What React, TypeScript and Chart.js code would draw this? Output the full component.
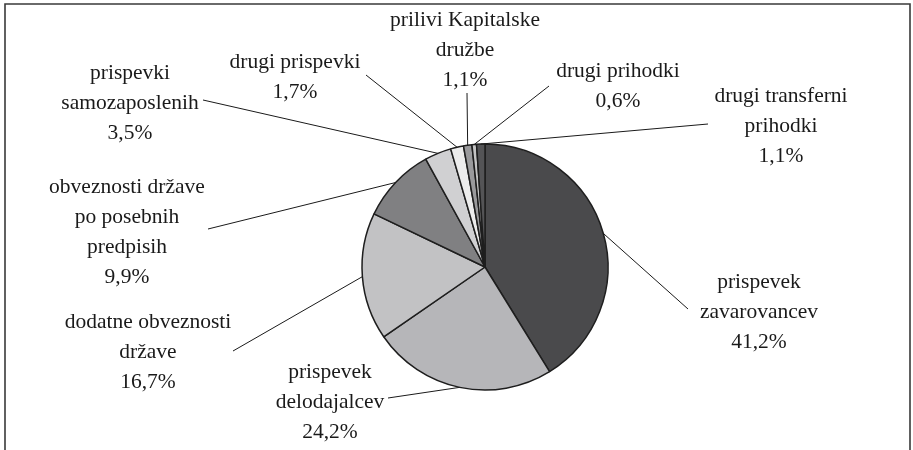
import React, { useEffect, useRef } from "react";
import { Chart, registerables } from "chart.js";

Chart.register(...registerables);

// ---- data ----
const categories = [
  "prispevek zavarovancev",
  "prispevek delodajalcev",
  "dodatne obveznosti države",
  "obveznosti države po posebnih predpisih",
  "prispevki samozaposlenih",
  "drugi prispevki",
  "prilivi Kapitalske družbe",
  "drugi prihodki",
  "drugi transferni prihodki",
];
const values = [41.2, 24.2, 16.7, 9.9, 3.5, 1.7, 1.1, 0.6, 1.1];

// ---- label wrapping (how each category name is broken into lines) ----
const labelWrap = [
  ["prispevek", "zavarovancev"],
  ["prispevek", "delodajalcev"],
  ["dodatne obveznosti", "države"],
  ["obveznosti države", "po posebnih", "predpisih"],
  ["prispevki", "samozaposlenih"],
  ["drugi prispevki"],
  ["prilivi Kapitalske", "družbe"],
  ["drugi prihodki"],
  ["drugi transferni", "prihodki"],
];

// ---- layout (label text centre x, first line centre y, leader end) ----
const labelX = [759, 330, 148, 127, 130, 295, 465, 618, 781];
const labelY = [282, 372, 322, 187, 73, 62, 20, 71, 96];
const leaderX = [688, 388, 233, 208, 203, 366, 467, 549, 708];
const leaderY = [309, 398, 351, 229, 100, 75, 93, 86, 124];

// ---- styles ----
const colors = [
  "#4a4a4c",
  "#b6b6b9",
  "#c2c2c4",
  "#808082",
  "#d0d0d2",
  "#ececec",
  "#9a9a9c",
  "#c4c4c4",
  "#545456",
];

const fmt = (v: number) => v.toFixed(1).replace(".", ",") + "%";

const labelPlugin = {
  id: "outsideLabels",
  afterDraw(chart: any) {
    const ctx = chart.ctx as CanvasRenderingContext2D;
    ctx.save();
    // frame
    ctx.strokeStyle = "#3a3a3a";
    ctx.lineWidth = 1.6;
    ctx.beginPath();
    ctx.moveTo(5, 460);
    ctx.lineTo(5, 4);
    ctx.lineTo(910, 4);
    ctx.lineTo(910, 460);
    ctx.stroke();

    const meta = chart.getDatasetMeta(0);
    ctx.font = '21.5px "Liberation Serif", "Times New Roman", serif';
    ctx.fillStyle = "#1a1a1a";
    ctx.textAlign = "center";
    ctx.textBaseline = "middle";
    meta.data.forEach((arc: any, i: number) => {
      const p = arc.getProps(["x", "y", "startAngle", "endAngle", "outerRadius"], true);
      const mid = (p.startAngle + p.endAngle) / 2;
      const px = p.x + Math.cos(mid) * p.outerRadius;
      const py = p.y + Math.sin(mid) * p.outerRadius;
      ctx.strokeStyle = "#1a1a1a";
      ctx.lineWidth = 1;
      ctx.beginPath();
      ctx.moveTo(leaderX[i], leaderY[i]);
      ctx.lineTo(px, py);
      ctx.stroke();
      const lines = [...labelWrap[i], fmt(values[i])];
      lines.forEach((t, k) => {
        ctx.fillText(t, labelX[i], labelY[i] + k * 30);
      });
    });
    ctx.restore();
  },
};

export default function App() {
  const ref = useRef<HTMLCanvasElement | null>(null);
  useEffect(() => {
    document.body.style.margin = "0";
    if (!ref.current) return;
    const chart = new Chart(ref.current, {
      type: "pie",
      data: {
        labels: categories,
        datasets: [
          {
            data: values,
            backgroundColor: colors,
            borderColor: "#1e1e1e",
            borderWidth: 1.5,
          },
        ],
      },
      options: {
        responsive: false,
        animation: false,
        radius: 123,
        layout: { padding: { left: 57, top: 84, right: 0, bottom: 0 } },
        plugins: {
          legend: { display: false },
          tooltip: { enabled: false },
          title: { display: false },
        },
      } as any,
      plugins: [labelPlugin],
    });
    return () => chart.destroy();
  }, []);
  return (
    <div style={{ width: 913, height: 450, background: "#fff" }}>
      <canvas ref={ref} width={913} height={450} />
    </div>
  );
}
